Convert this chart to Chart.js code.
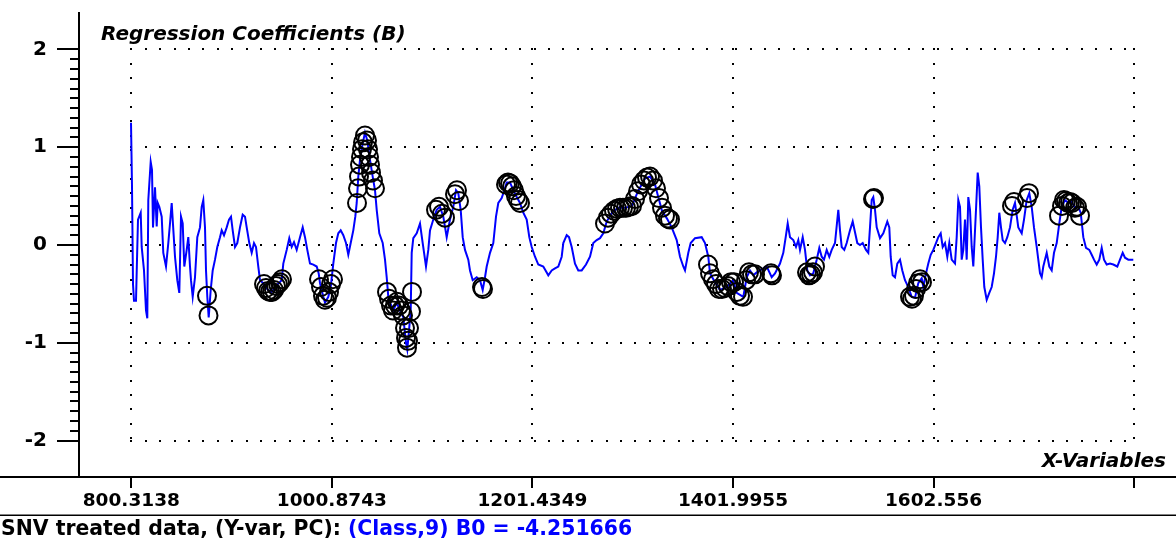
<!DOCTYPE html>
<html>
<head>
<meta charset="utf-8">
<title>Regression Coefficients (B)</title>
<script src="https://cdn.jsdelivr.net/npm/chart.js@4.4.1/dist/chart.umd.min.js"></script>
<style>
  html, body { margin: 0; padding: 0; background: #fff; }
  canvas { display: block; }
</style>
</head>
<body>
<canvas id="coefChart" width="1176" height="539"></canvas>
<script>
// X-variables (wavelength) and regression coefficient B
const spectrum = [
  [800,1.25],[801,0.60],[802,-0.40],[803,-0.57],[805,-0.57],[806,-0.15],[807,0.26],[809.7,0.33],[810.7,-0.02],[813,-0.26],
  [815,-0.67],[816.3,-0.75],[817.3,0.46],[819.7,0.85],[821,0.77],[822,0.18],[824,0.59],[825.7,0.19],[826.7,0.43],[828.3,0.39],
  [830.7,0.29],[832.3,-0.08],[835,-0.22],[837.3,0.02],[839,0.22],[840.7,0.43],[841.7,0.26],[844,-0.12],[846.3,-0.36],[848.3,-0.49],
  [850,0.29],[851.7,0.22],[853.3,-0.22],[855.7,-0.05],[857.3,0.08],[859,-0.22],[860,-0.36],[861.7,-0.53],[864,-0.33],[866.3,0.08],
  [869,0.18],[870.7,0.39],[872.3,0.46],[874,0.18],[875,-0.26],[876.3,-0.53],[877.7,-0.74],[879.7,-0.46],[881.7,-0.26],[884,-0.15],
  [886.3,-0.02],[889,0.08],[890.7,0.15],[893,0.10],[895.7,0.18],[898,0.26],[900,0.29],[901.7,0.15],[904,-0.02],[906.3,0.02],
  [909,0.18],[911.7,0.31],[914,0.29],[915.7,0.18],[918.3,0.02],[920.7,-0.08],[923,0.02],[925,-0.02],[927.3,-0.22],[929,-0.36],
  [932.3,-0.39],[937,-0.46],[940.7,-0.48],[945.7,-0.41],[950.7,-0.36],[952.3,-0.19],[955.7,-0.05],[958.3,0.07],[960.7,-0.02],[963,0.03],
  [965.7,-0.05],[969,0.08],[971.7,0.18],[974,0.08],[976.3,-0.05],[979,-0.19],[982.3,-0.20],[985.7,-0.22],[987.7,-0.29],[989,-0.39],
  [992.3,-0.53],[994,-0.59],[997.3,-0.53],[999.7,-0.43],[1002.3,-0.19],[1005,0.02],[1007.3,0.12],[1009.7,0.15],[1012.3,0.10],[1015,0.02],
  [1017.3,-0.10],[1019.7,0.02],[1022.3,0.15],[1024.3,0.29],[1025.7,0.43],[1027.3,0.70],[1029,0.87],[1031.7,1.04],[1034,1.15],[1036.3,1.07],
  [1039,0.87],[1041.7,0.70],[1044,0.56],[1045.7,0.36],[1048.3,0.12],[1051.7,0.02],[1054,-0.15],[1055.7,-0.33],[1057.3,-0.53],[1059,-0.59],
  [1062.3,-0.67],[1065.7,-0.59],[1069,-0.67],[1072.3,-0.74],[1075,-1.00],[1076.3,-1.07],[1078.3,-0.84],[1079.7,-0.67],[1080.7,-0.08],[1082.3,0.07],
  [1085.7,0.12],[1089,0.22],[1091.7,0.02],[1095,-0.22],[1097.3,-0.05],[1099,0.15],[1102.3,0.26],[1105.7,0.36],[1109,0.39],[1112.3,0.29],
  [1115.7,0.08],[1119,0.26],[1122.3,0.39],[1125,0.56],[1127.3,0.53],[1129.7,0.36],[1131.7,0.08],[1134,-0.05],[1137.3,-0.15],[1139,-0.26],
  [1141.7,-0.36],[1145.7,-0.33],[1149,-0.36],[1151.7,-0.46],[1154,-0.33],[1155.7,-0.22],[1159,-0.08],[1162.3,0.02],[1165,0.29],[1167.3,0.43],
  [1170.7,0.48],[1173.3,0.56],[1175.7,0.64],[1179,0.64],[1182.3,0.56],[1185.7,0.49],[1189,0.43],[1192.3,0.33],[1195.7,0.26],[1198.3,0.08],
  [1200.7,-0.02],[1204,-0.12],[1207.3,-0.20],[1212.3,-0.22],[1217.3,-0.31],[1220.7,-0.26],[1224,-0.24],[1227.3,-0.22],[1230.7,-0.12],[1232.3,0.02],
  [1235.7,0.10],[1238,0.08],[1240.7,-0.02],[1244,-0.19],[1247.3,-0.26],[1250.7,-0.26],[1255,-0.20],[1259,-0.12],[1262.3,0.02],[1265.7,0.05],
  [1269,0.07],[1272.3,0.12],[1275.7,0.24],[1281,0.33],[1287,0.38],[1294,0.38],[1301,0.40],[1307,0.55],[1314,0.68],[1319,0.70],
  [1324,0.62],[1327,0.50],[1331,0.35],[1336,0.27],[1340.7,0.18],[1345.7,0.05],[1349,-0.12],[1352.3,-0.22],[1354,-0.26],[1357.3,-0.08],
  [1359.7,0.02],[1364,0.07],[1370.7,0.08],[1374,0.02],[1377.3,-0.12],[1379,-0.29],[1384,-0.38],[1389,-0.46],[1395.7,-0.43],[1402.3,-0.36],
  [1405.7,-0.49],[1412.3,-0.53],[1415.7,-0.33],[1419,-0.26],[1422.3,-0.31],[1425.7,-0.28],[1429,-0.26],[1435.7,-0.22],[1440.7,-0.33],[1444,-0.29],
  [1449,-0.19],[1452.3,-0.08],[1454.7,0.08],[1456.7,0.22],[1459,0.08],[1462.3,0.05],[1465,-0.02],[1467.3,0.05],[1469,-0.05],[1471.7,0.08],
  [1474,-0.05],[1476.3,-0.26],[1479,-0.31],[1482.3,-0.29],[1485.7,-0.15],[1488.3,-0.03],[1490.7,-0.12],[1493,-0.15],[1495.7,-0.05],[1498.3,-0.12],
  [1500.7,-0.05],[1504,0.02],[1507.3,0.36],[1509,0.15],[1510.7,-0.02],[1513.3,-0.05],[1515.7,0.02],[1519,0.15],[1521.7,0.24],[1524,0.13],
  [1526.3,0.02],[1529,0.00],[1531.7,0.02],[1535,-0.05],[1537.3,-0.08],[1539,0.18],[1540.7,0.46],[1542.3,0.49],[1544,0.36],[1545.7,0.18],
  [1549,0.07],[1552.3,0.12],[1556.3,0.24],[1558.3,0.18],[1559.7,-0.12],[1561.7,-0.31],[1564,-0.33],[1566.3,-0.19],[1569,-0.15],[1571.3,-0.26],
  [1574,-0.36],[1577.3,-0.43],[1580.7,-0.53],[1584,-0.54],[1587.3,-0.39],[1590.7,-0.34],[1592.3,-0.43],[1595,-0.29],[1597.3,-0.19],[1599.7,-0.10],
  [1602.3,-0.05],[1605,0.02],[1607.3,0.08],[1609.7,0.12],[1611.7,-0.02],[1614,0.02],[1616.3,-0.12],[1618.3,0.02],[1620.7,-0.15],[1624,-0.19],
  [1625.7,0.08],[1627.3,0.46],[1629,0.39],[1630.7,-0.15],[1632.3,-0.05],[1634,0.26],[1635.7,-0.15],[1637.3,0.49],[1639,0.36],[1640.7,-0.02],
  [1642.3,-0.22],[1645,0.36],[1646.7,0.74],[1648.3,0.60],[1650,0.18],[1651.7,-0.15],[1653.3,-0.43],[1655.7,-0.56],[1658.3,-0.49],[1660.7,-0.43],
  [1663,-0.29],[1665,-0.12],[1666.7,0.08],[1668.3,0.33],[1670,0.18],[1671.7,0.05],[1674,0.02],[1676.3,0.08],[1679,0.18],[1681.7,0.36],
  [1684,0.43],[1687.3,0.18],[1690.7,0.12],[1693,0.26],[1695.7,0.46],[1698.3,0.53],[1700.7,0.39],[1703,0.18],[1705.7,-0.02],[1707.3,-0.15],
  [1709,-0.29],[1710.7,-0.33],[1712.3,-0.22],[1715.7,-0.08],[1718.3,-0.22],[1720.7,-0.26],[1723,-0.08],[1725.7,0.02],[1728.3,0.22],[1730.7,0.39],
  [1734,0.46],[1737.3,0.43],[1740.7,0.44],[1744,0.38],[1747.3,0.39],[1749.7,0.33],[1752.3,0.08],[1755,-0.03],[1758.3,-0.05],[1760.7,-0.10],
  [1763,-0.15],[1765.7,-0.20],[1768.3,-0.15],[1770.7,-0.03],[1773,-0.15],[1775.7,-0.20],[1779,-0.19],[1782.3,-0.20],[1786.3,-0.22],[1789,-0.15],
  [1791.7,-0.08],[1794,-0.13],[1797.3,-0.15],[1802.3,-0.15]
];

// variables marked with circles (selected X-variables)
const selectedVars = [
  [876,-0.52],[877.5,-0.72],
  [933,-0.40],[935,-0.44],[937,-0.47],[939,-0.48],[941,-0.48],[943,-0.46],[945,-0.42],[947,-0.40],[949,-0.38],[951,-0.35],
  [988,-0.35],[990,-0.43],[992,-0.52],[994,-0.56],[996,-0.54],[998,-0.48],[1000,-0.40],[1002,-0.35],
  [1026,0.43],[1027,0.58],[1028,0.70],[1029,0.82],[1030,0.90],[1031,0.98],[1032,1.05],[1034,1.12],[1036,1.07],[1037,0.98],
  [1038,0.90],[1039,0.82],[1040,0.74],[1042,0.66],[1044,0.58],
  [1056,-0.48],[1058,-0.55],[1060,-0.62],[1062,-0.67],[1064,-0.62],[1066,-0.58],[1068,-0.62],[1070,-0.67],[1072,-0.72],[1074,-0.85],
  [1075,-0.95],[1076,-1.05],[1077,-0.98],[1078,-0.85],[1080,-0.68],[1081,-0.48],
  [1105,0.36],[1108,0.39],[1111,0.32],[1114,0.28],[1124,0.52],[1126,0.56],[1128,0.45],
  [1151,-0.43],[1152,-0.45],
  [1175,0.62],[1177,0.64],[1179,0.63],[1181,0.60],[1183,0.56],[1185,0.50],[1187,0.46],[1189,0.43],
  [1274,0.22],[1277,0.28],[1280,0.32],[1283,0.35],[1286,0.37],[1289,0.38],[1292,0.38],[1295,0.38],[1298,0.39],[1301,0.40],
  [1304,0.47],[1307,0.55],[1310,0.62],[1313,0.66],[1316,0.69],[1319,0.70],[1322,0.66],[1325,0.58],[1328,0.48],[1331,0.38],
  [1334,0.30],[1337,0.27],[1339,0.26],
  [1377,-0.20],[1379,-0.29],[1382,-0.35],[1385,-0.40],[1388,-0.45],[1391,-0.45],[1394,-0.44],[1397,-0.42],[1400,-0.38],[1403,-0.38],
  [1406,-0.48],[1409,-0.52],[1412,-0.53],[1415,-0.36],[1418,-0.28],[1421,-0.30],[1424,-0.30],
  [1440,-0.29],[1441,-0.31],
  [1476,-0.28],[1478,-0.31],[1480,-0.30],[1482,-0.28],[1484,-0.22],
  [1542,0.47],[1543,0.48],
  [1579,-0.53],[1581,-0.55],[1583,-0.52],[1585,-0.45],[1587,-0.39],[1589,-0.35],[1591,-0.38],
  [1681,0.40],[1683,0.44],[1696,0.48],[1698,0.53],
  [1728,0.30],[1731,0.40],[1733,0.46],[1735,0.45],[1737,0.43],[1739,0.44],[1741,0.43],[1744,0.38],[1746,0.39],[1749,0.30]
];

const xTickValues = [800.3138, 1000.8743, 1201.4349, 1401.9955, 1602.556, 1803.1166];
const xTickLabels = ['800.3138', '1000.8743', '1201.4349', '1401.9955', '1602.556', ''];
const yTickValues = [-2, -1, 0, 1, 2];

const footerLeft = 'SNV treated data, (Y-var, PC): ';
const footerRight = '(Class,9) B0 = -4.251666';

// dotted grid, minor ticks and captions drawn around the chart area
const decorations = {
  id: 'decorations',
  beforeDatasetsDraw(chart) {
    const { ctx } = chart;
    const xs = chart.scales.x, ys = chart.scales.y;
    const x0 = xs.getPixelForValue(xTickValues[0]);
    const x1 = xs.getPixelForValue(xTickValues[xTickValues.length - 1]);
    const yTop = ys.getPixelForValue(yTickValues[yTickValues.length - 1]);
    const yBot = ys.getPixelForValue(yTickValues[0]);
    const step = 14.4;
    ctx.save();
    ctx.fillStyle = '#000';
    yTickValues.forEach(v => {
      const y = Math.round(ys.getPixelForValue(v));
      for (let x = x0; x <= x1 + 1; x += step) ctx.fillRect(Math.round(x) - 1, y - 1, 2, 2);
    });
    xTickValues.forEach(v => {
      const x = Math.round(xs.getPixelForValue(v));
      for (let y = yTop; y <= yBot + 1; y += step) ctx.fillRect(x - 1, Math.round(y) - 1, 2, 2);
    });
    ctx.restore();
  },
  afterDraw(chart) {
    const { ctx, chartArea } = chart;
    const ys = chart.scales.y;
    ctx.save();
    // minor ticks on the Y axis
    ctx.strokeStyle = '#000';
    ctx.lineWidth = 2;
    ctx.beginPath();
    for (let i = -20; i <= 20; i++) {
      if (i % 10 === 0) continue;
      const y = Math.round(ys.getPixelForValue(i / 10));
      ctx.moveTo(chartArea.left - 9, y);
      ctx.lineTo(chartArea.left, y);
    }
    ctx.stroke();

    // axis rule across the full width and the status bar rule
    ctx.fillStyle = '#000';
    ctx.fillRect(0, chartArea.bottom - 1, chart.width, 2);
    ctx.fillStyle = '#808080';
    ctx.fillRect(0, 514, chart.width, 1);
    ctx.fillStyle = '#000';
    ctx.fillRect(0, 515, chart.width, 1);

    // captions
    ctx.font = 'italic bold 20px "DejaVu Sans"';
    ctx.textBaseline = 'alphabetic';
    ctx.textAlign = 'left';
    ctx.fillText('Regression Coefficients (B)', 101, 40);
    ctx.textAlign = 'right';
    ctx.fillText('X-Variables', 1166, 467);

    ctx.textAlign = 'left';
    ctx.font = 'bold 20.4px "DejaVu Sans"';
    ctx.fillStyle = '#000';
    ctx.fillText(footerLeft, 1, 535);
    const w = ctx.measureText(footerLeft).width;
    ctx.fillStyle = '#0000ff';
    ctx.fillText(footerRight, 1 + w, 535);
    ctx.restore();
  }
};

new Chart(document.getElementById('coefChart'), {
  type: 'scatter',
  data: {
    datasets: [
      {
        label: 'Selected variables',
        data: selectedVars.map(p => ({ x: p[0], y: p[1] })),
        showLine: false,
        pointStyle: 'circle',
        pointRadius: 9,
        pointBorderColor: '#000',
        pointBorderWidth: 2,
        pointBackgroundColor: 'rgba(0,0,0,0)',
        order: 0
      },
      {
        label: 'B',
        data: spectrum.map(p => ({ x: p[0], y: p[1] })),
        showLine: true,
        borderColor: '#0000ff',
        borderWidth: 2,
        pointRadius: 0,
        tension: 0,
        fill: false,
        order: 1
      }
    ]
  },
  options: {
    responsive: false,
    animation: false,
    layout: { autoPadding: false, padding: { top: 13, left: 0, right: 0, bottom: 0 } },
    plugins: { legend: { display: false }, tooltip: { enabled: false } },
    scales: {
      x: {
        type: 'linear',
        min: 748,
        max: 1845,
        afterBuildTicks: s => { s.ticks = xTickValues.map(v => ({ value: v })); },
        afterFit: s => { s.height = 62; s.paddingLeft = 0; s.paddingRight = 0; },
        ticks: {
          autoSkip: false,
          maxRotation: 0,
          padding: 2,
          color: '#000',
          font: { family: 'DejaVu Sans', weight: 'bold', size: 18.5 },
          callback: (v, i) => xTickLabels[i]
        },
        grid: { drawOnChartArea: false, drawTicks: true, tickLength: 11, color: '#000', lineWidth: 2 },
        border: { display: true, color: '#000', width: 2 }
      },
      y: {
        min: -2.373,
        max: 2.373,
        afterBuildTicks: s => { s.ticks = yTickValues.map(v => ({ value: v })); },
        afterFit: s => { s.width = 79; s.paddingTop = 0; s.paddingBottom = 0; },
        ticks: {
          padding: 10,
          color: '#000',
          font: { family: 'DejaVu Sans', weight: 'bold', size: 20 },
          callback: v => String(v)
        },
        grid: { drawOnChartArea: false, drawTicks: true, tickLength: 22, color: '#000', lineWidth: 2 },
        border: { display: true, color: '#000', width: 2 }
      }
    }
  },
  plugins: [decorations]
});
</script>
</body>
</html>
